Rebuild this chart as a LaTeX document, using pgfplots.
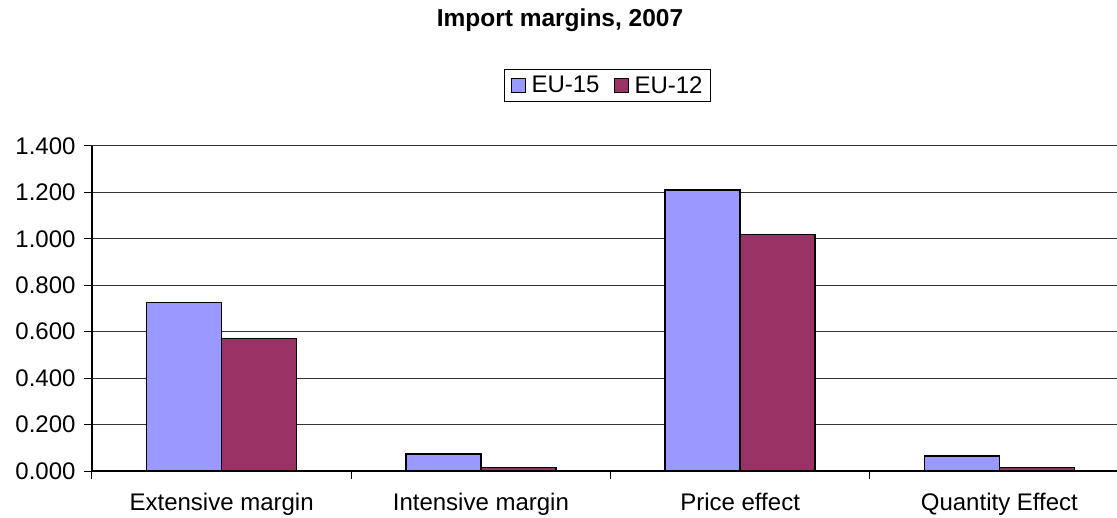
\documentclass[border=0pt]{standalone}
\usepackage{fontspec}
\setmainfont{Liberation Sans}
\usepackage{pgfplots}
\pgfplotsset{compat=1.18}

\definecolor{euA}{HTML}{9999FF}
\definecolor{euB}{HTML}{993366}

\pgfplotstableread{
x  eu15   eu12
0  0.725  0.570
1  0.073  0.014
2  1.210  1.020
3  0.065  0.016
}\margins

\begin{document}
\begin{tikzpicture}[font=\fontsize{24}{28}\selectfont]
  \useasboundingbox (0,0) rectangle (1117pt,517pt);
  \begin{axis}[
    at={(92pt,46pt)}, anchor=south west,
    scale only axis, width=1025pt, height=325pt,
    ybar=0pt, bar width=75pt,
    xmin=-0.5, xmax=3.4537, ymin=0, ymax=1.4,
    xtick={0,1,2,3},
    xticklabels={Extensive margin, Intensive margin, Price effect, Quantity Effect},
    minor xtick={-0.5,0.5,1.5,2.5},
    ytick={0,0.2,...,1.4},
    /pgf/number format/assume math mode=true,
    yticklabel style={/pgf/number format/fixed, /pgf/number format/fixed zerofill,
      /pgf/number format/precision=3, xshift=-5pt},
    axis lines*=left, axis line style={-, black, line width=1.2pt},
    tick align=outside, major tick length=8pt, minor tick length=8pt,
    major x tick style={draw=none},
    minor x tick style={black, line width=1pt},
    major y tick style={black, line width=1pt},
    ymajorgrids, grid style={black!80, line width=1pt},
    xticklabel style={yshift=-11pt},
    title={Import margins, 2007},
    title style={at={(0.4566,1)}, anchor=base, yshift=113pt,
      font=\fontsize{24.5}{28}\selectfont\bfseries},
    legend columns=2,
    legend style={at={(0.503,1)}, anchor=south, yshift=44pt, draw=black, line width=0.8pt,
      inner xsep=6pt, inner ysep=5pt,
      /tikz/every odd column/.append style={column sep=4pt},
      /tikz/every even column/.append style={column sep=12pt}},
    legend image code/.code={\draw[#1, line width=1pt] (0pt,-7pt) rectangle (14pt,7pt);},
  ]
    \addplot[fill=euA, draw=black, line width=1.3pt] table[x=x, y=eu15] {\margins};
    \addplot[fill=euB, draw=black, line width=1.3pt] table[x=x, y=eu12] {\margins};
    \legend{EU-15, EU-12}
  \end{axis}
\end{tikzpicture}
\end{document}
